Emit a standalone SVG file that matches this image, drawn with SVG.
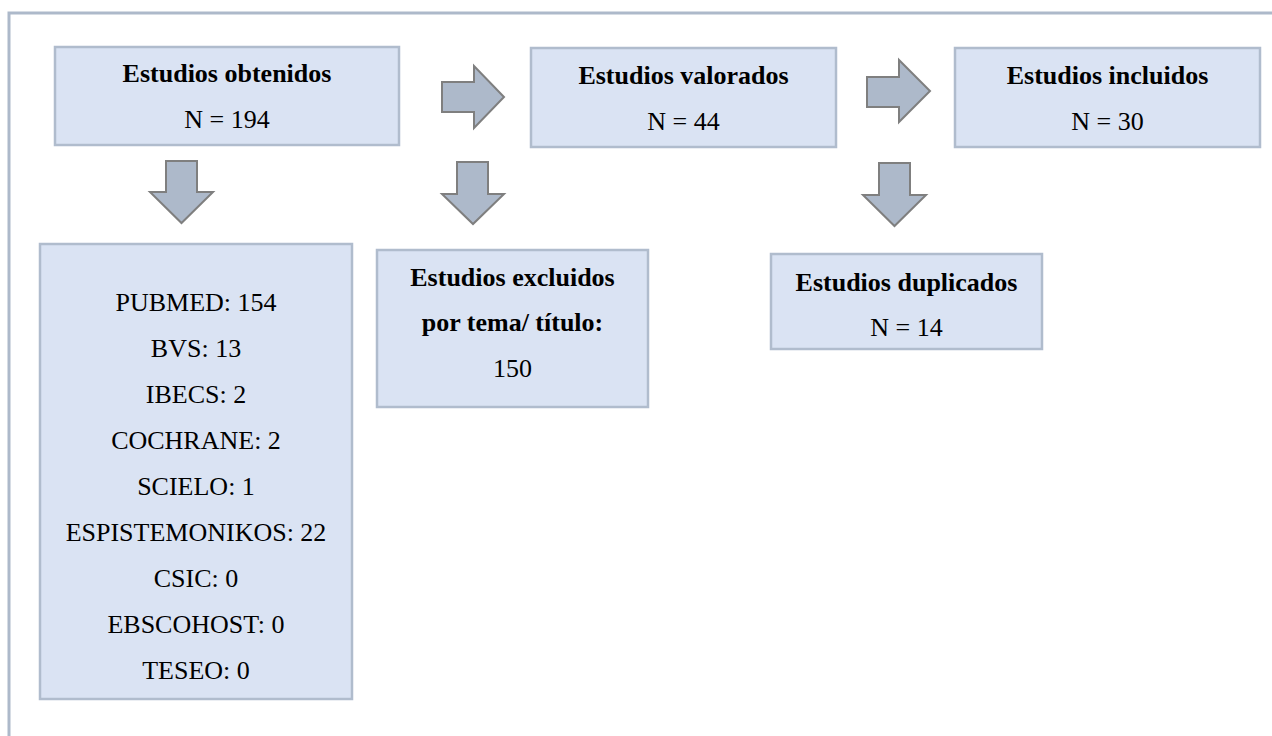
<svg xmlns="http://www.w3.org/2000/svg" width="1272" height="736" viewBox="0 0 1272 736">
<style>
.box{fill:#dae3f3;stroke:#b0bccd;stroke-width:2.5}
.arr{fill:#adb9ca;stroke:#7f7f7f;stroke-width:2;stroke-linejoin:miter}
text{font-family:"Liberation Serif","Times New Roman",serif;font-size:26px;fill:#000;text-anchor:middle}
.b{font-weight:bold}
</style>
<rect width="1272" height="736" fill="#fff"/>
<rect id="frame" x="9" y="13" width="1320" height="800" fill="none" stroke="#adb9ca" stroke-width="3"/>
<g id="connectors">
<polygon class="arr" points="442,82 474,82 474,66 504,97 474,128 474,112 442,112"/>
<polygon class="arr" points="867,77 899,77 899,60 930,91 899,122 899,107 867,107"/>
<polygon class="arr" points="166,161 197,161 197,192 213,192 181.5,223 150,192 166,192"/>
<polygon class="arr" points="457,162 488,162 488,194 504,194 473,224 442,194 457,194"/>
<polygon class="arr" points="879,163 910,163 910,195 926,195 894.5,226 863,195 879,195"/>
</g>
<g id="obtenidos">
<rect class="box" x="55" y="47" width="344" height="98"/>
<text class="b" x="227" y="82">Estudios obtenidos</text>
<text x="227" y="128">N = 194</text>
</g>
<g id="valorados">
<rect class="box" x="531" y="48" width="305" height="99"/>
<text class="b" x="683.5" y="83.5">Estudios valorados</text>
<text x="683.5" y="129.5">N = 44</text>
</g>
<g id="incluidos">
<rect class="box" x="955" y="48" width="305" height="99"/>
<text class="b" x="1107.5" y="83.5">Estudios incluidos</text>
<text x="1107.5" y="129.5">N = 30</text>
</g>
<g id="fuentes">
<rect class="box" x="40" y="244" width="312" height="455"/>
<text x="196" y="310.5">PUBMED: 154</text>
<text x="196" y="356.5">BVS: 13</text>
<text x="196" y="402.5">IBECS: 2</text>
<text x="196" y="448.5">COCHRANE: 2</text>
<text x="196" y="494.5">SCIELO: 1</text>
<text x="196" y="540.5">ESPISTEMONIKOS: 22</text>
<text x="196" y="586.5">CSIC: 0</text>
<text x="196" y="632.5">EBSCOHOST: 0</text>
<text x="196" y="678.5">TESEO: 0</text>
</g>
<g id="excluidos">
<rect class="box" x="377" y="250" width="271" height="157"/>
<text class="b" x="512.5" y="286">Estudios excluidos</text>
<text class="b" x="512.5" y="331">por tema/ título:</text>
<text x="512.5" y="377">150</text>
</g>
<g id="duplicados">
<rect class="box" x="771" y="254" width="271" height="95"/>
<text class="b" x="906.5" y="291">Estudios duplicados</text>
<text x="906.5" y="336">N = 14</text>
</g>
</svg>
